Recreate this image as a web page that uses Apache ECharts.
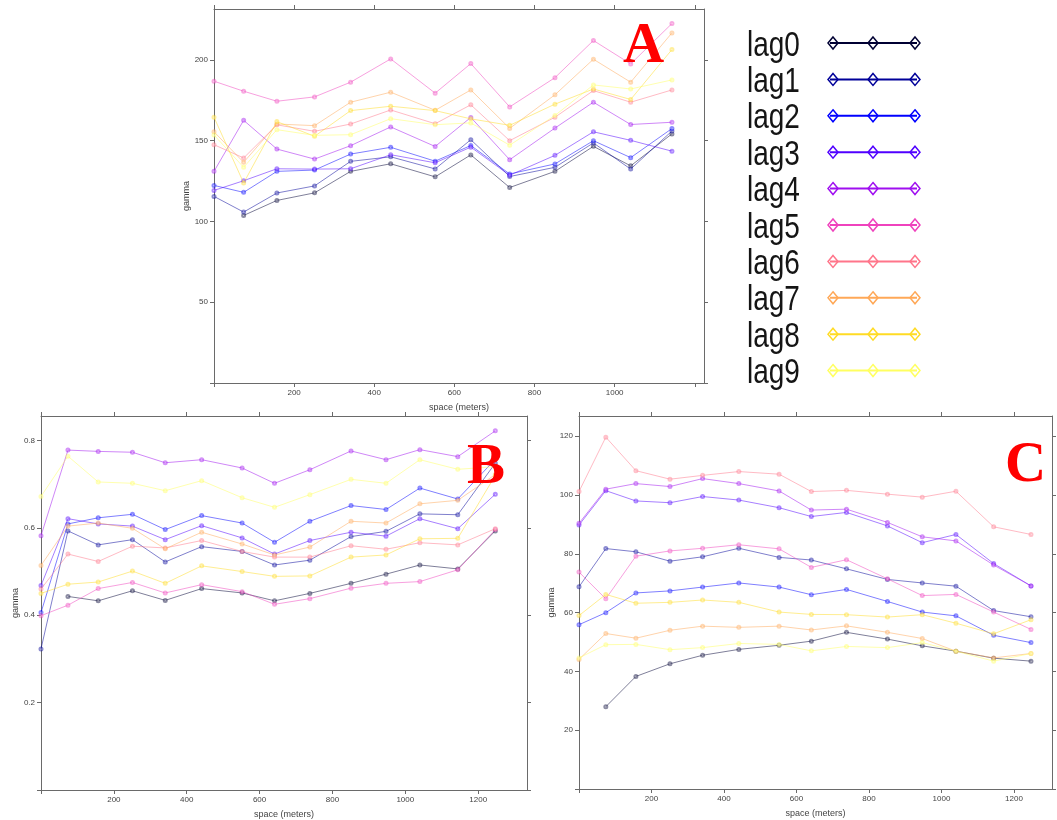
<!DOCTYPE html>
<html>
<head>
<meta charset="utf-8">
<script src="https://cdn.jsdelivr.net/npm/echarts@6/dist/echarts.min.js"></script>
<style>
  html, body { margin: 0; padding: 0; background: #ffffff; }
  #chart { width: 1057px; height: 820px; }
</style>
</head>
<body>
<div id="chart"></div>
<script>
// Time-lag groups and their colours (bpy.colors palette)
const lagNames = ['lag0', 'lag1', 'lag2', 'lag3', 'lag4', 'lag5', 'lag6', 'lag7', 'lag8', 'lag9'];
const lagColors = ['#000033', '#000099', '#0000FF', '#5000FF', '#9F0FF0',
                   '#EF42BD', '#FF758A', '#FFA857', '#FFDB24', '#FFFF60'];

// Spatial lag bins (meters)
const distA = [0, 74, 157, 251, 341, 441, 552, 641, 738, 851, 947, 1040, 1143];
const distBC = [0, 74, 157, 251, 341, 441, 552, 641, 738, 851, 947, 1040, 1144, 1247];

// Panel A semivariance, one row per time lag
const gammaA = [
  [null, 103.7, 113.0, 117.7, 131.0, 135.7, 127.6, 141.2, 121.0, 131.0, 146.5, 134.4, 154.2],
  [115.5, 105.8, 117.6, 122.0, 137.2, 140.0, 132.5, 150.6, 127.8, 133.5, 148.6, 132.4, 156.0],
  [122.3, 118.0, 131.0, 131.8, 141.7, 145.9, 137.3, 147.0, 129.4, 135.6, 150.0, 139.5, 157.5],
  [119.2, 125.2, 132.6, 132.4, 132.6, 141.3, 136.3, 146.0, 128.6, 140.9, 155.5, 150.2, 143.5],
  [131.0, 162.6, 144.8, 138.6, 146.9, 158.5, 146.4, 164.4, 138.2, 157.8, 173.8, 160.0, 161.4],
  [186.8, 180.6, 174.4, 177.1, 186.2, 200.6, 179.4, 197.7, 170.9, 189.0, 212.0, 197.5, 222.5],
  [147.5, 139.3, 159.8, 155.8, 160.3, 169.0, 160.5, 172.2, 150.0, 164.5, 181.0, 173.8, 181.4],
  [155.5, 136.6, 160.3, 159.3, 173.8, 180.0, 168.8, 181.4, 157.6, 178.4, 200.4, 186.2, 216.7],
  [164.5, 123.8, 161.8, 152.7, 168.6, 171.3, 168.6, 163.5, 159.5, 172.6, 182.0, 175.5, 206.4],
  [153.5, 133.5, 156.8, 153.3, 153.7, 163.6, 159.9, 161.0, 147.2, 165.6, 184.5, 182.0, 187.6]
];

// Panel B semivariance
const gammaB = [
  [null, 0.443, 0.433, 0.456, 0.434, 0.461, 0.451, 0.433, 0.450, 0.473, 0.494, 0.515, 0.506, 0.593],
  [0.323, 0.593, 0.561, 0.573, 0.522, 0.557, 0.546, 0.515, 0.526, 0.580, 0.592, 0.632, 0.630, 0.748],
  [0.406, 0.609, 0.623, 0.631, 0.596, 0.628, 0.611, 0.567, 0.615, 0.651, 0.642, 0.691, 0.666, 0.757],
  [0.468, 0.621, 0.609, 0.604, 0.573, 0.605, 0.577, 0.540, 0.571, 0.590, 0.581, 0.621, 0.598, 0.677],
  [0.582, 0.778, 0.775, 0.773, 0.749, 0.756, 0.737, 0.702, 0.733, 0.776, 0.756, 0.779, 0.763, 0.822],
  [0.399, 0.423, 0.461, 0.475, 0.451, 0.470, 0.454, 0.425, 0.438, 0.462, 0.473, 0.477, 0.504, 0.596],
  [0.460, 0.540, 0.523, 0.558, 0.554, 0.571, 0.546, 0.533, 0.533, 0.559, 0.551, 0.566, 0.561, 0.598],
  [0.514, 0.604, 0.611, 0.599, 0.552, 0.590, 0.563, 0.538, 0.556, 0.615, 0.611, 0.655, 0.663, 0.722],
  [0.450, 0.471, 0.476, 0.501, 0.473, 0.513, 0.500, 0.489, 0.490, 0.533, 0.538, 0.575, 0.576, 0.720],
  [0.672, 0.764, 0.705, 0.702, 0.685, 0.708, 0.669, 0.647, 0.676, 0.711, 0.702, 0.756, 0.734, 0.740]
];

// Panel C semivariance
const gammaC = [
  [null, 28.0, 38.3, 42.6, 45.5, 47.5, 48.9, 50.3, 53.3, 51.0, 48.7, 46.9, 44.5, 43.5],
  [68.8, 81.8, 80.7, 77.5, 79.0, 81.9, 78.8, 77.9, 74.9, 71.3, 70.1, 69.0, 60.7, 58.6],
  [55.9, 60.0, 66.7, 67.4, 68.7, 70.1, 68.7, 66.1, 67.9, 63.8, 60.2, 58.9, 52.3, 49.8],
  [89.8, 101.5, 98.0, 97.4, 99.5, 98.3, 95.7, 92.7, 94.1, 89.5, 83.8, 86.6, 76.7, 69.1],
  [90.4, 102.0, 103.9, 102.9, 105.6, 103.9, 101.4, 94.9, 95.2, 90.7, 85.8, 84.4, 76.2, 69.1],
  [73.8, 64.7, 79.2, 81.0, 81.9, 83.1, 81.7, 75.4, 78.0, 71.5, 65.8, 66.2, 60.2, 54.3],
  [101.2, 119.7, 108.3, 105.4, 106.7, 108.0, 107.1, 101.2, 101.6, 100.3, 99.3, 101.3, 89.2, 86.6],
  [44.1, 52.9, 51.3, 54.0, 55.4, 55.0, 55.4, 54.1, 55.5, 53.3, 51.2, 46.9, 44.6, 46.1],
  [59.0, 66.2, 63.2, 63.5, 64.3, 63.5, 60.2, 59.4, 59.3, 58.5, 59.3, 56.4, 52.8, 57.6],
  [44.6, 49.1, 49.2, 47.4, 48.1, 49.5, 49.2, 47.0, 48.5, 48.1, 49.8, 46.9, 43.5, 46.1]
];

// Axis tick values
const xTicks = [0, 200, 400, 600, 800, 1000, 1200];
const xLabelsA = [200, 400, 600, 800, 1000];
const xLabelsBC = [200, 400, 600, 800, 1000, 1200];
const yTicksA = [0, 50, 100, 150, 200];
const yTicksB = [0, 0.2, 0.4, 0.6, 0.8];
const yTicksC = [0, 20, 40, 60, 80, 100, 120];

const panelLetters = ['A', 'B', 'C'];

const chart = echarts.init(document.getElementById('chart'), null, { renderer: 'canvas' });

const frameColor = '#6a6a6a';
const labelFont = 'Liberation Sans';

const panels = [
  { grid: { left: 214, top: 9, width: 490, height: 374 }, xMax: 1223, yMax: 231.5,
    yTicks: yTicksA, yLabels: yTicksA.slice(1), xLabels: xLabelsA, dist: distA, gamma: gammaA },
  { grid: { left: 41, top: 416, width: 486, height: 374 }, xMax: 1334, yMax: 0.856,
    yTicks: yTicksB, yLabels: yTicksB.slice(1), xLabels: xLabelsBC, dist: distBC, gamma: gammaB },
  { grid: { left: 579, top: 416, width: 473, height: 373 }, xMax: 1305, yMax: 126.9,
    yTicks: yTicksC, yLabels: yTicksC.slice(1), xLabels: xLabelsBC, dist: distBC, gamma: gammaC }
];

const grids = [], xAxes = [], yAxes = [], series = [];

panels.forEach((p, pi) => {
  grids.push(Object.assign({ containLabel: false }, p.grid));
  const axLine = { show: true, onZero: false, lineStyle: { color: frameColor, width: 1 } };
  const tick = (vals) => ({ show: true, inside: false, length: 4, customValues: vals,
                            lineStyle: { color: frameColor, width: 1 } });
  const lbl = (vals) => ({ show: true, customValues: vals, color: '#444',
                            fontSize: 8, fontFamily: labelFont, margin: 6,
                            formatter: v => String(v) });
  // bottom axis with labels
  xAxes.push({ type: 'value', gridIndex: pi, position: 'bottom', min: 0, max: p.xMax,
    axisLine: axLine, axisTick: tick(xTicks), axisLabel: lbl(p.xLabels), splitLine: { show: false },
    name: 'space (meters)', nameLocation: 'middle', nameGap: 20,
    nameTextStyle: { color: '#444', fontSize: 9, fontFamily: labelFont } });
  // top axis: frame and ticks only
  xAxes.push({ type: 'value', gridIndex: pi, position: 'top', min: 0, max: p.xMax,
    axisLine: axLine, axisTick: tick(xTicks), axisLabel: { show: false }, splitLine: { show: false } });
  // left axis with labels
  yAxes.push({ type: 'value', gridIndex: pi, position: 'left', min: 0, max: p.yMax,
    axisLine: axLine, axisTick: tick(p.yTicks), axisLabel: lbl(p.yLabels),
    splitLine: { show: false },
    name: 'gamma', nameLocation: 'middle', nameGap: 17, nameRotate: 90,
    nameTextStyle: { color: '#444', fontSize: 9, fontFamily: labelFont } });
  // right axis: frame and ticks only
  yAxes.push({ type: 'value', gridIndex: pi, position: 'right', min: 0, max: p.yMax,
    axisLine: axLine, axisTick: tick(p.yTicks), axisLabel: { show: false }, splitLine: { show: false } });

  p.gamma.forEach((row, li) => {
    const pts = [];
    row.forEach((v, k) => { if (v !== null) pts.push([p.dist[k], v]); });
    series.push({
      type: 'line', name: lagNames[li], xAxisIndex: pi * 2, yAxisIndex: pi * 2,
      data: pts, symbol: 'emptyCircle', symbolSize: 3, clip: false,
      lineStyle: { color: lagColors[li], width: 1, opacity: 0.5 },
      itemStyle: { color: lagColors[li], borderWidth: 1, opacity: 0.45 },
      emphasis: { disabled: true }, silent: true, z: 2 + li
    });
  });
});

// Legend: name, then a line with three open diamonds
const graphics = [];
const legendTop = 43, legendStep = 36.4;
lagNames.forEach((name, i) => {
  const y = legendTop + i * legendStep;
  graphics.push({
    type: 'text', x: 747, y: y + 3, scaleX: 0.8, silent: true,
    style: { text: name, x: 0, y: 0, fill: '#151515', font: '35px "Liberation Sans"',
             verticalAlign: 'middle', align: 'left' }
  });
  graphics.push({
    type: 'line', silent: true,
    shape: { x1: 830, y1: y, x2: 917, y2: y },
    style: { stroke: lagColors[i], lineWidth: 2 }
  });
  [833, 873, 915].forEach(cx => {
    graphics.push({
      type: 'polygon', silent: true,
      shape: { points: [[cx, y - 6], [cx + 5, y], [cx, y + 6], [cx - 5, y]] },
      style: { stroke: lagColors[i], fill: 'none', lineWidth: 1.5 }
    });
  });
});

// Panel letters
const letterPos = [[623, 47], [467, 468], [1005, 466]];
panelLetters.forEach((t, i) => {
  graphics.push({
    type: 'text', x: letterPos[i][0], y: letterPos[i][1], silent: true, z: 50,
    style: { text: t, fill: '#ff0000', font: 'bold 57px "Liberation Serif"',
             verticalAlign: 'middle', align: 'left' }
  });
});

chart.setOption({
  backgroundColor: '#ffffff',
  animation: false,
  grid: grids,
  xAxis: xAxes,
  yAxis: yAxes,
  series: series,
  graphic: graphics
});
</script>
</body>
</html>
